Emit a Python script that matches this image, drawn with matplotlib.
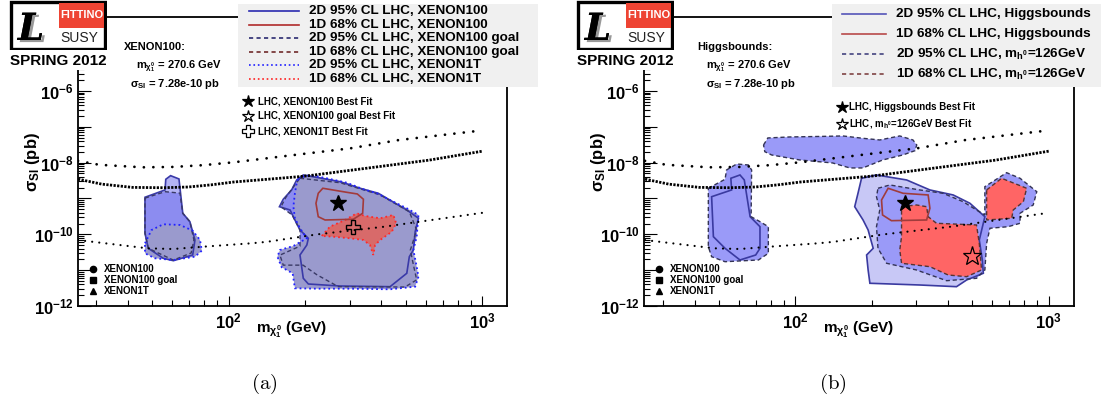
import numpy as np
import matplotlib.pyplot as plt
from matplotlib import font_manager
from matplotlib import patheffects as pe
from matplotlib.lines import Line2D
from matplotlib.patches import Rectangle
from matplotlib.ticker import LogLocator, FuncFormatter, NullFormatter

plt.rcParams['font.family'] = ['Liberation Sans', 'DejaVu Sans']
plt.rcParams['font.weight'] = 'bold'
plt.rcParams['mathtext.fontset'] = 'custom'
plt.rcParams['mathtext.rm'] = 'Liberation Sans:bold'
plt.rcParams['mathtext.it'] = 'Liberation Sans:bold'
plt.rcParams['mathtext.bf'] = 'Liberation Sans:bold'

try:
    font_manager.findfont('Liberation Sans Narrow', fallback_to_default=False)
    narrow = 'Liberation Sans Narrow'
except ValueError:
    narrow = 'Liberation Sans'

W, H = 1104, 412
def fx(px): return px / W
def fy(py): return 1 - py / H

# ---------------- data (log10 m[GeV], log10 sigma_SI[pb]) ----------------
# direct detection limits
xe100_lm = [1.406, 1.49, 1.66, 1.78, 1.90, 2.02, 2.23, 2.48, 2.67, 3.0]
xe100_ls = [-7.95, -8.06, -8.13, -8.12, -8.07, -7.99, -7.81, -7.60, -7.37, -7.10]
goal_lm = [1.406, 1.50, 1.62, 1.74, 1.84, 1.93, 2.02, 2.28, 2.32, 2.79, 3.0]
goal_ls = [-8.46, -8.60, -8.69, -8.70, -8.68, -8.62, -8.54, -8.39, -8.36, -7.93, -7.68]
xe1t_lm = [1.406, 1.68, 1.78, 1.91, 2.09, 2.15, 2.35, 2.61, 3.0]
xe1t_ls = [-10.16, -10.39, -10.41, -10.34, -10.25, -10.21, -10.0, -9.79, -9.40]

# panel (a): XENON100 fit contours
a100_2d_L = ([1.670, 1.749, 1.752, 1.771, 1.804, 1.819, 1.847, 1.867, 1.858, 1.782, 1.742, 1.683, 1.670],
             [-8.966, -8.762, -8.464, -8.363, -8.455, -9.413, -9.647, -10.158, -10.577, -10.736, -10.669, -10.390, -9.971])
a100_2d_R = ([2.294, 2.439, 2.518, 2.590, 2.702, 2.748, 2.735, 2.728, 2.712, 2.702, 2.636, 2.439, 2.314, 2.294,
              2.281, 2.308, 2.314, 2.281, 2.261, 2.242, 2.200, 2.215, 2.248, 2.268],
             [-8.344, -8.531, -8.715, -8.855, -9.321, -9.552, -9.926, -10.437, -10.624, -11.087, -11.461, -11.442,
              -11.386, -11.227, -10.577, -10.298, -10.111, -9.879, -9.600, -9.321, -9.229, -9.022, -8.762, -8.483])
agoal_2d_L = ([1.670, 1.749, 1.808, 1.819, 1.847, 1.863, 1.852, 1.782, 1.683, 1.670],
              [-8.99, -8.81, -8.85, -9.413, -9.647, -10.158, -10.52, -10.72, -10.39, -9.97])
agoal_2d_R = ([2.281, 2.439, 2.597, 2.712, 2.741, 2.716, 2.728, 2.741, 2.695, 2.432, 2.348, 2.293, 2.215,
               2.202, 2.281, 2.281, 2.250, 2.206, 2.226, 2.261],
              [-8.436, -8.56, -8.90, -9.37, -9.88, -10.44, -10.85, -11.27, -11.47, -11.46, -11.13, -10.86,
               -10.86, -10.58, -10.33, -9.88, -9.46, -9.23, -8.96, -8.62])
a1t_2d_L = ([1.670, 1.696, 1.742, 1.808, 1.858, 1.887, 1.894, 1.867, 1.782, 1.709, 1.670],
            [-10.250, -9.879, -9.720, -9.739, -9.898, -10.158, -10.457, -10.624, -10.716, -10.669, -10.529])
a1t_2d_R = ([2.274, 2.321, 2.386, 2.465, 2.531, 2.584, 2.649, 2.702, 2.748, 2.741, 2.728, 2.741, 2.748, 2.735,
             2.636, 2.478, 2.347, 2.261, 2.252, 2.209, 2.192, 2.202, 2.255, 2.308, 2.281, 2.261, 2.255, 2.261, 2.268],
            [-8.436, -8.344, -8.436, -8.559, -8.743, -8.855, -9.089, -9.273, -9.460, -10.066, -10.437, -10.903,
             -11.182, -11.461, -11.534, -11.517, -11.517, -11.506, -11.087, -10.920, -10.624, -10.437, -10.325,
             -10.111, -9.831, -9.552, -9.229, -8.855, -8.576])
a100_1d = ([2.371, 2.465, 2.507, 2.531, 2.528, 2.491, 2.380, 2.353, 2.344, 2.353],
           [-8.715, -8.827, -8.874, -9.022, -9.413, -9.580, -9.600, -9.508, -9.134, -8.855])
a1t_1d = ([2.367, 2.399, 2.459, 2.505, 2.537, 2.597, 2.649, 2.660, 2.643, 2.597, 2.577, 2.570, 2.557, 2.531, 2.478, 2.412],
          [-10.046, -9.787, -9.600, -9.413, -9.488, -9.552, -9.460, -9.692, -9.926, -10.158, -10.298, -10.577,
           -10.298, -10.158, -10.111, -10.066])
best100 = (270.6, 7.28e-10)
best1t = (308.0, 1.63e-10)

# panel (b): Higgsbounds / m_h0 = 126 GeV contours
bhb_2d_L = ([1.669, 1.748, 1.745, 1.781, 1.798, 1.821, 1.860, 1.860, 1.843, 1.781, 1.722, 1.676],
            [-8.950, -8.762, -8.436, -8.344, -8.483, -9.508, -9.787, -10.390, -10.577, -10.716, -10.390, -10.066])
bhb_2d_R = ([2.261, 2.320, 2.439, 2.531, 2.623, 2.689, 2.748, 2.726, 2.738, 2.742, 2.676, 2.636, 2.491, 2.294,
             2.287, 2.281, 2.307, 2.287, 2.267, 2.234, 2.247],
            [-8.436, -8.344, -8.483, -8.762, -8.902, -9.134, -9.508, -10.158, -10.716, -11.087, -11.274, -11.461,
             -11.414, -11.366, -10.995, -10.577, -10.390, -9.879, -9.600, -9.229, -8.855])
bmh_2d_L = ([1.656, 1.722, 1.728, 1.768, 1.814, 1.827, 1.825, 1.860, 1.893, 1.893, 1.854, 1.722, 1.669, 1.656],
            [-8.715, -8.464, -8.204, -8.037, -8.065, -8.204, -9.508, -9.647, -9.787, -10.529, -10.716, -10.764,
             -10.624, -10.345])
bmh_2d_U = ([1.874, 1.891, 1.977, 2.096, 2.187, 2.266, 2.333, 2.412, 2.464, 2.479, 2.472, 2.424, 2.345, 2.266,
             2.215, 2.147, 2.017, 1.906, 1.879],
            [-7.507, -7.311, -7.283, -7.269, -7.255, -7.320, -7.367, -7.255, -7.367, -7.507, -7.666, -7.786,
             -7.925, -8.148, -8.148, -8.009, -7.925, -7.786, -7.694])
bmh_2d_R = ([2.326, 2.373, 2.491, 2.583, 2.662, 2.715, 2.748, 2.748, 2.834, 2.887, 2.953, 2.939, 2.887, 2.887,
             2.840, 2.768, 2.755, 2.748, 2.715, 2.597, 2.478, 2.360, 2.326, 2.320, 2.333, 2.320],
            [-8.715, -8.623, -8.762, -8.855, -9.089, -9.321, -9.460, -8.670, -8.280, -8.436, -8.810, -9.181,
             -9.413, -9.692, -9.787, -9.831, -10.250, -10.995, -11.227, -11.294, -10.995, -10.808, -10.390,
             -9.787, -9.321, -8.950])
bmh_1d_A = ([2.419, 2.478, 2.518, 2.524, 2.557, 2.715, 2.726, 2.735, 2.676, 2.603, 2.531, 2.419, 2.412, 2.419, 2.419],
            [-9.229, -9.181, -9.229, -9.508, -9.692, -9.739, -10.250, -10.995, -11.182, -11.135, -10.903, -10.808,
             -10.437, -10.066, -9.600])
bmh_1d_B = ([2.755, 2.814, 2.913, 2.900, 2.860, 2.854, 2.755],
            [-8.762, -8.436, -8.715, -9.089, -9.321, -9.552, -9.600])
bhb_1d = ([2.366, 2.425, 2.524, 2.531, 2.518, 2.379, 2.344, 2.340],
          [-8.715, -8.855, -8.902, -9.273, -9.600, -9.619, -9.460, -9.042])
best126 = (497.0, 2.5e-11)

# ---------------- figure ----------------
fig = plt.figure(figsize=(W / 100, H / 100), dpi=100)
axa = fig.add_axes([fx(78), fy(306), fx(507) - fx(78), fy(17) - fy(306)])
axb = fig.add_axes([fx(644), fy(306), fx(1074) - fx(644), fy(17) - fy(306)])


def region(ax, poly, fc=None, ec=None, ls='-', lw=1.0, z=2):
    m = 10 ** np.array(poly[0])
    s = 10 ** np.array(poly[1])
    if fc is not None:
        ax.fill(m, s, fc=fc, ec='none', zorder=z)
    if ec is not None:
        ax.fill(m, s, fc='none', ec=ec, ls=ls, lw=lw, zorder=z + 3)


def limits(ax):
    ax.plot(10 ** np.array(xe100_lm), 10 ** np.array(xe100_ls), color='k', lw=2.0,
            ls=(0, (0.01, 3.4)), dash_capstyle='round', zorder=8)
    ax.plot(10 ** np.array(goal_lm), 10 ** np.array(goal_ls), color='k', lw=2.0,
            ls=(0, (0.8, 0.5)), zorder=8)
    ax.plot(10 ** np.array(xe1t_lm), 10 ** np.array(xe1t_ls), color='k', lw=1.6,
            ls=(0, (0.01, 3.2)), dash_capstyle='round', zorder=8)


def ylab(v, _):
    e = round(np.log10(v))
    return r'$\mathbf{10^{%d}}$' % e if (e % 2 == 0 and e <= -6) else ''


def style(ax, xlo, xhi):
    ax.set_xscale('log')
    ax.set_yscale('log')
    ax.set_xlim(xlo, xhi)
    ax.set_ylim(1e-12, 10 ** -3.936)
    ax.yaxis.set_major_locator(LogLocator(base=10, subs=(1.0,), numticks=20))
    ax.yaxis.set_minor_locator(LogLocator(base=10, subs=np.arange(2, 10), numticks=20))
    ax.yaxis.set_major_formatter(FuncFormatter(ylab))
    ax.yaxis.set_minor_formatter(NullFormatter())
    ax.xaxis.set_major_locator(LogLocator(base=10, subs=(1.0,), numticks=20))
    ax.xaxis.set_minor_locator(LogLocator(base=10, subs=np.arange(2, 10), numticks=20))
    ax.xaxis.set_major_formatter(FuncFormatter(lambda v, _: r'$\mathbf{10^{%d}}$' % round(np.log10(v))))
    ax.xaxis.set_minor_formatter(NullFormatter())
    ax.tick_params(which='both', direction='in', top=False, right=False, labelsize=12, width=0.8)
    ax.tick_params(axis='y', which='major', length=9, pad=3)
    ax.tick_params(axis='y', which='minor', length=4.5)
    ax.tick_params(axis='x', which='major', length=7, pad=4)
    ax.tick_params(axis='x', which='minor', length=4.5)
    for sp in ax.spines.values():
        sp.set_linewidth(1.3)


# ---- panel (a) ----
region(axa, a100_2d_L, fc='#b3b3f4', z=2)
region(axa, a100_2d_R, fc='#b3b3f4', z=2)
region(axa, agoal_2d_L, fc='#8c8cf0', z=3)
region(axa, agoal_2d_R, fc='#8c8cf0', z=3)
region(axa, a1t_2d_L, fc='#9a9acd', z=4)
region(axa, a1t_2d_R, fc='#9a9acd', z=4)
region(axa, a1t_1d, fc='#d86a6a', z=5)
region(axa, a100_2d_L, ec='#3a3aa8', lw=1.2, z=3)
region(axa, a100_2d_R, ec='#3a3aa8', lw=1.2, z=3)
region(axa, agoal_2d_L, ec='#3a3a66', ls=(0, (3, 2)), lw=1.0, z=3)
region(axa, agoal_2d_R, ec='#3a3a66', ls=(0, (3, 2)), lw=1.0, z=3)
region(axa, a1t_2d_L, ec='#2222ff', ls=':', lw=1.3, z=3)
region(axa, a1t_2d_R, ec='#2222ff', ls=':', lw=1.3, z=3)
region(axa, a1t_1d, ec='#ff2a2a', ls=':', lw=1.3, z=4)
region(axa, a100_1d, ec='#a33a3a', lw=1.2, z=4)
limits(axa)
axa.plot(*best100, marker='*', ms=12, color='k', zorder=12)
axa.plot(*best1t, marker='P', ms=10, mfc='none', mec='k', mew=1.0, zorder=12)
style(axa, 10 ** 1.406, 10 ** 3.097)

# ---- panel (b) ----
region(axb, bhb_2d_L, fc='#c8c8f6', z=2)
region(axb, bhb_2d_R, fc='#c8c8f6', z=2)
for p in (bmh_2d_L, bmh_2d_U, bmh_2d_R):
    region(axb, p, fc='#9a9af8', z=3)
for p in (bmh_1d_A, bmh_1d_B):
    region(axb, p, fc='#ff6565', z=4)
region(axb, bhb_2d_L, ec='#3a3aa0', lw=1.2, z=3)
region(axb, bhb_2d_R, ec='#3a3aa0', lw=1.2, z=3)
for p in (bmh_2d_L, bmh_2d_U, bmh_2d_R):
    region(axb, p, ec='#333355', ls=(0, (3, 2)), lw=1.0, z=3)
for p in (bmh_1d_A, bmh_1d_B):
    region(axb, p, ec='#553333', ls=(0, (3, 2)), lw=1.0, z=4)
region(axb, bhb_1d, ec='#a03c3c', lw=1.2, z=4)
limits(axb)
axb.plot(*best100, marker='*', ms=12, color='k', zorder=12)
axb.plot(*best126, marker='*', ms=14, mfc='none', mec='k', mew=0.9, zorder=12)
style(axb, 10 ** 1.402, 10 ** 3.1)

# ---- axis titles ----
for xc, yc in ((292, 33), (859, 599)):
    fig.text(fx(xc), fy(330), r'$\mathbf{m}_{\chi^0_1}$ (GeV)', ha='center', va='center', fontsize=11)
    fig.text(fx(yc), fy(162), r'$\sigma_{\mathrm{SI}}$ (pb)', ha='center', va='center', fontsize=12, rotation=90)

# ---- logos ----
for x0 in (9, 576):
    fig.patches.append(Rectangle((fx(x0 - 6), fy(70)), fx(104), 70 / H, transform=fig.transFigure,
                                 fc='white', ec='none', zorder=1))
    lg = fig.add_axes([fx(x0), fy(50), fx(98), 50 / H], zorder=10)
    lg.set_xlim(0, 98)
    lg.set_ylim(50, 0)
    lg.axis('off')
    lg.add_patch(Rectangle((1.5, 1.5), 95, 47, fc='white', ec='k', lw=2.4))
    lg.add_patch(Rectangle((50, 2.5), 45.5, 25, fc='#ee4433', ec='none'))
    lg.text(72.5, 15, 'FITTINO', color='white', fontsize=8, family=narrow, ha='center', va='center',
            fontweight='bold')
    lg.text(22, 40, 'L', color='k', fontsize=27, family='DejaVu Serif', style='italic',
            fontweight='bold', ha='center', va='baseline',
            path_effects=[pe.withSimplePatchShadow(offset=(2, -1.5), shadow_rgbFace='#999999', alpha=1.0),
                          pe.Normal()])
    lg.text(70, 38, 'SUSY', color='#222222', fontsize=10, fontweight='normal', ha='center', va='center')
    fig.text(fx(x0 + 49), fy(61), 'SPRING 2012', ha='center', va='center', fontsize=11, fontweight='bold')

# ---- fit info ----
fig.text(fx(124), fy(47), 'XENON100:', fontsize=8, va='center')
fig.text(fx(136), fy(66), r'$\mathrm{m}_{\chi^0_1}$ = 270.6 GeV', fontsize=8, va='center')
fig.text(fx(130), fy(84), r'$\sigma_{\mathrm{SI}}$ = 7.28e-10 pb', fontsize=8, va='center')
fig.text(fx(697), fy(47), 'Higgsbounds:', fontsize=8, va='center')
fig.text(fx(706), fy(66), r'$\mathrm{m}_{\chi^0_1}$ = 270.6 GeV', fontsize=8, va='center')
fig.text(fx(706), fy(84), r'$\sigma_{\mathrm{SI}}$ = 7.28e-10 pb', fontsize=8, va='center')

# ---- contour legends ----
leg_a = [('2D 95% CL LHC, XENON100', '#2a2ab0', '-'),
         ('1D 68% CL LHC, XENON100', '#b02a2a', '-'),
         ('2D 95% CL LHC, XENON100 goal', '#2a2a70', (0, (2.5, 2))),
         ('1D 68% CL LHC, XENON100 goal', '#702a2a', (0, (2.5, 2))),
         ('2D 95% CL LHC, XENON1T', '#2020ff', ':'),
         ('1D 68% CL LHC, XENON1T', '#ff2020', ':')]
leg_b = [('2D 95% CL LHC, Higgsbounds', '#5555b8', '-'),
         ('1D 68% CL LHC, Higgsbounds', '#b84a4a', '-'),
         (r'2D 95% CL LHC, m$_{\mathrm{h}^0}$=126GeV', '#444480', (0, (2.5, 2))),
         (r'1D 68% CL LHC, m$_{\mathrm{h}^0}$=126GeV', '#804444', (0, (2.5, 2)))]
fig.patches.append(Rectangle((fx(238), fy(87)), fx(538) - fx(238), 83 / H, transform=fig.transFigure,
                             fc='#f0f0f0', ec='none', zorder=4))
for i, (lab, c, ls) in enumerate(leg_a):
    y = fy(11 + 13.6 * i)
    fig.add_artist(Line2D([fx(249), fx(299)], [y, y], color=c, ls=ls, lw=1.2, zorder=5))
    fig.text(fx(309), y, lab, fontsize=9.7, va='center', zorder=6)
fig.patches.append(Rectangle((fx(832), fy(87)), fx(1101) - fx(832), 83 / H, transform=fig.transFigure,
                             fc='#f0f0f0', ec='none', zorder=4))
for i, (lab, c, ls) in enumerate(leg_b):
    y = fy(14 + 20 * i)
    fig.add_artist(Line2D([fx(842), fx(886)], [y, y], color=c, ls=ls, lw=1.2, zorder=5))
    fig.text(fx(896), y, lab, fontsize=9.7, va='center', zorder=6)

# ---- best fit legends ----
bf_a = [('LHC, XENON100 Best Fit', '*', 'k'),
        ('LHC, XENON100 goal Best Fit', '*', 'none'),
        ('LHC, XENON1T Best Fit', 'P', 'none')]
for i, (lab, mk, mf) in enumerate(bf_a):
    y = fy(101 + 15 * i)
    fig.add_artist(Line2D([fx(248)], [y], marker=mk, ms=9, mfc=mf, mec='k', mew=0.9, color='k'))
    fig.text(fx(258), y, lab, fontsize=7, va='center')
bf_b = [('LHC, Higgsbounds Best Fit', 'k'),
        (r'LHC, m$_{\mathrm{h}^0}$=126GeV Best Fit', 'none')]
for i, (lab, mf) in enumerate(bf_b):
    y = fy(107 + 17 * i)
    fig.add_artist(Line2D([fx(842)], [y], marker='*', ms=9, mfc=mf, mec='k', mew=0.9, color='k'))
    fig.text(fx(849), y, lab, fontsize=7, va='center')

# ---- limit markers key ----
keys = [('XENON100', 'o'), ('XENON100 goal', 's'), ('XENON1T', '^')]
for x0 in (93, 659):
    for i, (lab, mk) in enumerate(keys):
        y = fy(269 + 11 * i)
        fig.add_artist(Line2D([fx(x0)], [y], marker=mk, ms=4.5, color='k', ls='none'))
        fig.text(fx(x0 + 11), y, lab, fontsize=7, va='center')

# ---- captions ----
for xc, lab in ((264, '(a)'), (833, '(b)')):
    fig.text(fx(xc), fy(384), r'$\mathrm{%s}$' % lab, fontsize=15, ha='center', va='center',
             math_fontfamily='cm')

fig.savefig('out.png', dpi=100)
